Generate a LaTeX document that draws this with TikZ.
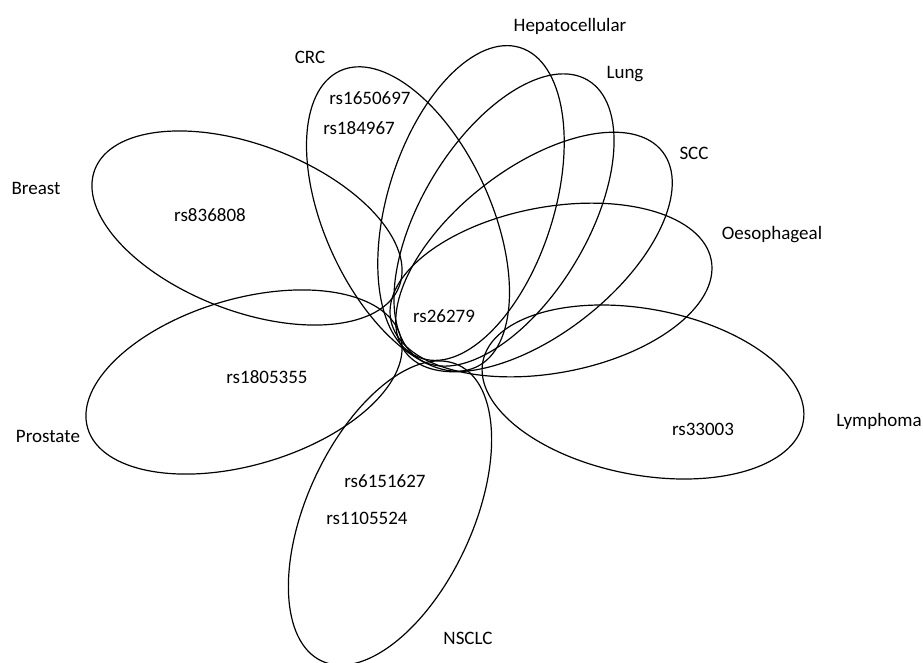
\documentclass[tikz,border=0pt]{standalone}
\usepackage{fontspec}
\setmainfont{Carlito}
\begin{document}
\begin{tikzpicture}[
        x=1pt,
        y=-1pt,
        setline/.style={draw=black, line width=1.2pt},
        lbl/.style={font=\fontsize{19}{22}\selectfont, inner sep=0pt, anchor=base}
    ]
    \useasboundingbox (0,0) rectangle (923,662);
    % one ellipse per cancer type: centre x / centre y / angle
    \foreach \cx/\cy/\ang in {247/228/-21, 408/219/114.6, 471/203/72.4,
                              504/220/59, 534/252/38, 551/290/10.5,
                              643/392/-10.7, 390/513/65.3, 244/382/16.5} {
        \draw[setline, rotate around={\ang:(\cx,\cy)}] (\cx,\cy) ellipse [x radius=163, y radius=83];
    }
    % set names
    \node[lbl] (breast) at (36,194) {Breast};
    \node[lbl] (crc) at (310,63) {CRC};
    \node[lbl] (hepato) at (570,31) {Hepatocellular};
    \node[lbl] (lung) at (625,78) {Lung};
    \node[lbl] (scc) at (694,159) {SCC};
    \node[lbl] (oeso) at (772,239) {Oesophageal};
    \node[lbl] (lymph) at (879,426) {Lymphoma};
    \node[lbl] (nsclc) at (468,644) {NSCLC};
    \node[lbl] (prostate) at (48,442) {Prostate};
    % SNPs
    \node[lbl] (snpa) at (370,104) {rs1650697};
    \node[lbl] (snpb) at (359,134) {rs184967};
    \node[lbl] (snpc) at (210,221) {rs836808};
    \node[lbl] (snpd) at (444,322) {rs26279};
    \node[lbl] (snpe) at (267,383) {rs1805355};
    \node[lbl] (snpf) at (385,487) {rs6151627};
    \node[lbl] (snpg) at (367,524) {rs1105524};
    \node[lbl] (snph) at (703,435) {rs33003};
\end{tikzpicture}
\end{document}
